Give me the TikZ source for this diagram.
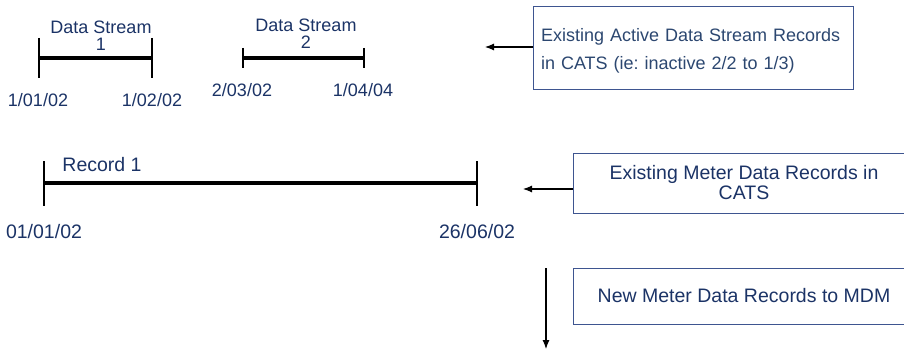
\documentclass[tikz,border=0pt]{standalone}
\usepackage{fontspec}
\setmainfont{Liberation Sans}
\usepackage{xcolor}
\usepackage{tikz}
\usetikzlibrary{positioning,arrows.meta}
\definecolor{ink}{HTML}{1B3366}
\definecolor{inkgrey}{HTML}{2C4770}
\definecolor{frame}{HTML}{3E5590}
\frenchspacing

\begin{document}
\begin{tikzpicture}[x=1pt, y=-1pt,
  lbl/.style={font=\fontsize{18}{20}\selectfont, text=ink, inner sep=0pt},
  big/.style={font=\fontsize{19.5}{21}\selectfont},
  note/.style={draw=frame, line width=0.9pt, font=\fontsize{19.5}{21}\selectfont,
               text=ink, inner sep=0pt},
  bar/.style={line width=4.5pt},
  tick/.style={line width=1.1pt},
  arr/.style={-{Latex[length=9pt,width=7pt]}, line width=1.1pt}]
\useasboundingbox (0,0) rectangle (904,350);
% data stream periods
\coordinate (s1a) at (39,58); \coordinate (s1b) at (152,58);
\coordinate (s2a) at (243,58); \coordinate (s2b) at (364,58);
\draw[bar] (s1a) -- (s1b); \draw[bar] (s2a) -- (s2b);
\draw[tick] ([yshift=20pt]s1a) -- ([yshift=-20pt]s1a);
\draw[tick] ([yshift=20pt]s1b) -- ([yshift=-20pt]s1b);
\draw[tick] ([yshift=10pt]s2a) -- ([yshift=-10pt]s2a);
\draw[tick] ([yshift=10pt]s2b) -- ([yshift=-10pt]s2b);
\node[lbl, align=center] (ds1) at (101,36) {Data Stream\\[-3pt]1};
\node[lbl, align=center] (ds2) at (306,34) {Data Stream\\[-3pt]2};
\node[lbl] (d1) at (38,100) {1/01/02};
\node[lbl] (d2) at (152,100) {1/02/02};
\node[lbl] (d3) at (242,90) {2/03/02};
\node[lbl] (d4) at (363,90) {1/04/04};
% meter data record
\coordinate (r1a) at (44,183); \coordinate (r1b) at (477,183);
\draw[bar] (r1a) -- (r1b);
\draw[tick] ([yshift=22pt]r1a) -- ([yshift=-23pt]r1a);
\draw[tick] ([yshift=22pt]r1b) -- ([yshift=-23pt]r1b);
\node[lbl, big] (rec) at (102,165) {Record 1};
\node[lbl, big] (d5) at (44,232) {01/01/02};
\node[lbl, big] (d6) at (477,232) {26/06/02};
% notes
\node[note, font=\fontsize{18}{28}\selectfont, text=inkgrey, minimum width=320pt,
      minimum height=83pt, align=left, text width=304pt, text height=20pt]
  (act) at (693,47.5) {Existing Active Data Stream Records\\in CATS (ie: inactive 2/2 to 1/3)};
\node[note, minimum width=342pt, minimum height=60pt, align=center]
  (mdr) at (744,183) {Existing Meter Data Records in\\[-1pt]CATS};
\node[note, minimum width=342pt, minimum height=56pt]
  (mdm) at (744,296) {New Meter Data Records to MDM};
\coordinate (a1) at (485,47);
\coordinate (a2) at (523,189);
\coordinate (dtop) at (546,268); \coordinate (dbot) at (546,349);
\draw[arr] (act.west |- a1) -- (a1);
\draw[arr] (mdr.west |- a2) -- (a2);
\draw[arr] (dtop) -- (dbot);
\end{tikzpicture}
\end{document}
